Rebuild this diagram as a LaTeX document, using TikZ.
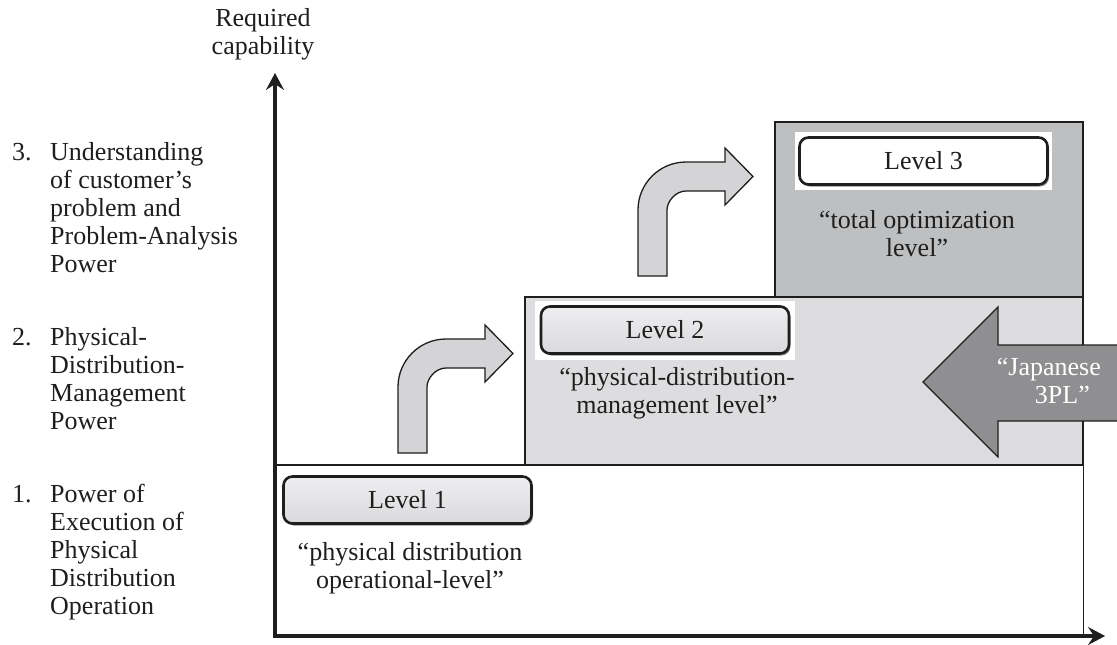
\documentclass[tikz,border=0pt]{standalone}
\usepackage{fontspec}
\setmainfont{Liberation Serif}
\usetikzlibrary{arrows.meta,shadows}
\definecolor{ink}{HTML}{1E1E1E}
\definecolor{regtwo}{HTML}{DDDDDF}
\definecolor{regthree}{HTML}{BEBFC1}
\definecolor{bentfill}{HTML}{D4D4D6}
\definecolor{darkfill}{HTML}{8F8F91}
\definecolor{boxtop}{HTML}{EEEEF0}
\definecolor{boxbot}{HTML}{DADADC}
\begin{document}
\begin{tikzpicture}[x=1pt,y=-1pt,
  lbl/.style={font=\fontsize{26}{28}\selectfont, inner sep=0pt, text=ink},
  desc/.style={font=\fontsize{26}{28.5}\selectfont, inner sep=0pt, text=ink, anchor=base},
  regionline/.style={draw=ink, line width=1.4pt},
  axis/.style={draw=ink, line width=4pt, line join=miter, {Stealth[length=17pt,width=18pt,inset=6pt]}-{Stealth[length=17pt,width=18pt,inset=6pt]}},
  levelbox/.style={draw=ink, line width=2.6pt, rounded corners=9pt, minimum width=248pt, minimum height=47pt, inner sep=0pt,
    font=\fontsize{26}{28}\selectfont, text=ink,
    drop shadow={shadow xshift=1.5pt, shadow yshift=-2pt, fill=black, opacity=0.45}},
  greybox/.style={levelbox, top color=boxtop, bottom color=boxbot},
  whitebox/.style={levelbox, fill=white},
  bent/.style={fill=bentfill, draw=ink, line width=1.3pt, line join=miter},
  bentarrow/.pic={
    \filldraw[bent] (0,0) -- (0,-66) .. controls (0,-92.5) and (21.5,-114) .. (48,-114)
      -- (87,-114) -- (87,-128) -- (115,-99.5) -- (87,-71) -- (87,-85) -- (48,-85)
      .. controls (37.5,-85) and (29,-74.5) .. (29,-66) -- (29,0) -- cycle;
  }]
\useasboundingbox (0,0) rectangle (1117,645);

% coordinates of the axes
\coordinate (O) at (275,636);
\coordinate (ytip) at (275,73);
\coordinate (xtip) at (1105,636);

% level regions
\fill[regtwo] (525,297) rectangle (1083,465);
\draw[regionline] (525,465) -- (525,297) -- (1083,297) -- (1083,465);
\fill[regthree] (775,122) rectangle (1083,297);
\draw[regionline] (775,297) -- (775,122) -- (1083,122) -- (1083,297);
\draw[draw=ink, line width=2pt] (775,297) -- (1083,297);
\draw[draw=ink, line width=1pt] (1083,465) -- (1083,636);
\draw[draw=ink, line width=2.8pt] (275,465) -- (1083,465);

% Japanese 3PL arrow
\fill[darkfill] (923,382) -- (998,307) -- (998,345) -- (1117,345) -- (1117,421) -- (998,421) -- (998,457) -- cycle;
\draw[draw=ink, line width=1.1pt, line join=miter] (1117,345) -- (998,345) -- (998,307) -- (923,382) -- (998,457) -- (998,421) -- (1117,421);
\node[lbl, text=white, anchor=base east] (jp) at (1101,375)
  {\begin{tabular}[t]{@{}r@{}}“Japanese\\3PL”\hspace*{11pt}\end{tabular}};

% bent arrows
\pic (arrA) at (398,453) {bentarrow};
\pic (arrB) at (638,276) {bentarrow};

% white backgrounds behind level 2 and level 3 boxes
\fill[white] (535,301) rectangle (795,360);
\fill[white] (795,132) rectangle (1052,190);

% level boxes
\node[greybox] (L1) at (407.5,500) {Level 1};
\node[greybox] (L2) at (665,330) {Level 2};
\node[whitebox] (L3) at (923.5,161) {Level 3};

% level descriptions
\node[desc] (d1) at (410,560) {\begin{tabular}[t]{@{}c@{}}“physical distribution\\operational-level”\end{tabular}};
\node[desc] (d2) at (677,385) {\begin{tabular}[t]{@{}c@{}}“physical-distribution-\\management level”\end{tabular}};
\node[desc] (d3) at (917,228) {\begin{tabular}[t]{@{}c@{}}“total optimization\\level”\end{tabular}};

% axis label
\node[lbl, anchor=base] (ylab) at (263,27) {\begin{tabular}[t]{@{}c@{}}Required\\capability\end{tabular}};

% capability list
\node[lbl, anchor=base west] (n3) at (12,160) {3.};
\node[lbl, anchor=base west] (t3) at (50,160) {\begin{tabular}[t]{@{}l@{}}Understanding\\of customer’s\\problem and\\Problem-Analysis\\Power\end{tabular}};
\node[lbl, anchor=base west] (n2) at (12,345) {2.};
\node[lbl, anchor=base west] (t2) at (50,345) {\begin{tabular}[t]{@{}l@{}}Physical-\\Distribution-\\Management\\Power\end{tabular}};
\node[lbl, anchor=base west] (n1) at (12,502) {1.};
\node[lbl, anchor=base west] (t1) at (50,502) {\begin{tabular}[t]{@{}l@{}}Power of\\Execution of\\Physical\\Distribution\\Operation\end{tabular}};

% axes
\draw[axis] (ytip) -- (O) -- (xtip);
\end{tikzpicture}
\end{document}
